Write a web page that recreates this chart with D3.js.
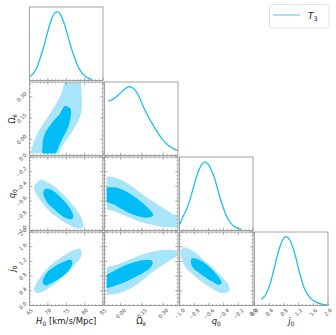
<!DOCTYPE html>
<html>
<head>
<meta charset="utf-8">
<script src="https://cdn.jsdelivr.net/npm/d3@7"></script>
<style>
  body { margin: 0; background: #fff; }
  svg { display: block; font-family: 'DejaVu Sans', sans-serif; }
</style>
</head>
<body>
<div id="chart"></div>
<script>
'use strict'

// parameter ranges, prior bounds and ticks
const DOMAINS = [[65, 85], [-0.115, 0.405], [-1.0, 0.0], [0.0, 2.0]]
const PRIORS = [[65, 85], [-0.1, 0.4], [-1.0, 0.0], [0.0, 2.0]]
const MAJOR_TICKS = [
  [65, 70, 75, 80, 85],
  [0.0, 0.15, 0.30],
  [-1.0, -0.8, -0.6, -0.4, -0.2, 0.0],
  [0.0, 0.4, 0.8, 1.2, 1.6, 2.0]
]
const TICK_FORMATS = ['d', '.2f', '.1f', '.1f']
const MINOR_STEPS = [1, 0.03, 0.05, 0.1]
const AXIS_LABELS = [
  ['H', '0', ' [km/s/Mpc]', true],
  ['Ω', 'k', '', false],
  ['q', '0', '', true],
  ['j', '0', '', true]
]

// 1D marginals (normalised to peak)
const H0_GRID = [65, 66, 67, 68, 69, 70, 71, 72, 73, 74, 75, 76, 77, 78, 79, 80, 81, 82]
const H0_DENSITY = [0.05, 0.10, 0.19, 0.34, 0.52, 0.72, 0.89, 0.99, 0.99, 0.89, 0.73, 0.54, 0.37, 0.23, 0.13, 0.07, 0.035, 0.015]
const OK_GRID = [-0.088, -0.053, -0.017, 0.018, 0.053, 0.089, 0.124, 0.160, 0.195, 0.230, 0.266, 0.301, 0.336, 0.372, 0.403]
const OK_DENSITY = [0.79, 0.82, 0.88, 0.95, 1.0, 0.98, 0.88, 0.71, 0.56, 0.44, 0.32, 0.22, 0.15, 0.10, 0.07]
const Q0_GRID = [-0.997, -0.948, -0.880, -0.812, -0.744, -0.698, -0.653, -0.608, -0.540, -0.472, -0.404, -0.336, -0.268, -0.200, -0.154]
const Q0_DENSITY = [0.087, 0.21, 0.375, 0.62, 0.86, 0.96, 1.0, 0.96, 0.81, 0.57, 0.33, 0.16, 0.07, 0.03, 0.015]
const J0_GRID = [0.177, 0.286, 0.422, 0.558, 0.694, 0.811, 0.876, 0.966, 1.102, 1.238, 1.374, 1.510, 1.646, 1.829, 1.965]
const J0_DENSITY = [0.09, 0.14, 0.31, 0.59, 0.86, 0.99, 1.0, 0.95, 0.74, 0.45, 0.23, 0.115, 0.057, 0.02, 0.01]

// 2D credible contours, [x, y] in parameter units
const H0_OK_68 = [[74.66, 0.235], [76.02, 0.219], [76.29, 0.183], [75.57, 0.089], [73.75, -0.005], [71.2, -0.13], [68.85, -0.13], [68.58, -0.029], [69.22, 0.042], [71.03, 0.113], [73.3, 0.183]]
const H0_OK_95 = [[75.3, 0.43], [78.3, 0.43], [79.2, 0.30], [79.0, 0.183], [76.9, 0.065], [73.75, -0.053], [72.2, -0.13], [65.45, -0.13], [66.04, -0.029], [67.67, 0.065], [70.58, 0.183], [73.3, 0.301]]
const H0_Q0_68 = [[69.22, -0.435], [71.03, -0.449], [73.75, -0.562], [76.02, -0.698], [76.93, -0.812], [76.47, -0.844], [74.66, -0.825], [71.94, -0.721], [69.67, -0.608], [68.76, -0.494]]
const H0_Q0_95 = [[66.31, -0.40], [67.86, -0.313], [69.67, -0.336], [72.39, -0.426], [76.02, -0.608], [78.74, -0.789], [79.65, -0.925], [79.2, -0.970], [77.38, -0.961], [74.2, -0.880], [70.58, -0.744], [67.86, -0.585], [66.5, -0.472]]
const H0_J0_68 = [[68.58, 0.639], [69.67, 0.884], [71.94, 1.066], [74.66, 1.202], [76.2, 1.247], [76.66, 1.156], [75.57, 0.930], [73.3, 0.748], [71.03, 0.612], [69.22, 0.549]]
const H0_J0_95 = [[66.22, 0.431], [66.95, 0.612], [68.76, 0.884], [71.49, 1.156], [74.66, 1.383], [77.38, 1.519], [78.74, 1.547], [79.2, 1.383], [77.38, 1.111], [74.66, 0.839], [71.49, 0.567], [68.76, 0.386], [66.95, 0.340]]
const OK_Q0_68 = [[-0.12, -0.43], [-0.053, -0.413], [0.018, -0.449], [0.113, -0.562], [0.195, -0.698], [0.230, -0.789], [0.207, -0.821], [0.136, -0.812], [0.042, -0.744], [-0.041, -0.653], [-0.12, -0.58]]
const OK_Q0_95 = [[-0.13, -0.281], [-0.029, -0.290], [0.065, -0.381], [0.160, -0.517], [0.266, -0.653], [0.360, -0.766], [0.43, -0.857], [0.43, -0.948], [0.360, -0.957], [0.254, -0.934], [0.136, -0.880], [0.018, -0.789], [-0.076, -0.721], [-0.13, -0.698]]
const OK_J0_68 = [[-0.12, 0.76], [-0.053, 0.930], [0.042, 1.111], [0.160, 1.229], [0.219, 1.220], [0.226, 1.156], [0.207, 1.020], [0.089, 0.748], [-0.005, 0.585], [-0.12, 0.49]]
const OK_J0_95 = [[-0.13, 0.975], [-0.029, 1.111], [0.089, 1.293], [0.207, 1.456], [0.325, 1.519], [0.396, 1.474], [0.41, 1.383], [0.384, 1.311], [0.230, 0.930], [0.113, 0.567], [-0.005, 0.340], [-0.088, 0.295], [-0.13, 0.295]]
const Q0_J0_68 = [[-0.834, 1.274], [-0.766, 1.274], [-0.630, 1.111], [-0.494, 0.839], [-0.426, 0.612], [-0.472, 0.567], [-0.562, 0.658], [-0.698, 0.839], [-0.812, 1.020], [-0.844, 1.156]]
const Q0_J0_95 = [[-0.948, 1.583], [-0.812, 1.474], [-0.653, 1.202], [-0.472, 0.884], [-0.336, 0.567], [-0.322, 0.404], [-0.426, 0.340], [-0.608, 0.522], [-0.789, 0.794], [-0.925, 1.066], [-0.980, 1.383]]

const LEGEND_LABEL = ['T', '3']

const LEFT = 29.5
const TOP = 7
const SIZE = 73.5
const STEP = 75
const LINE_COLOR = '#1dbdf3'
const FILL_68 = '#00bcf7'
const FILL_95 = '#a8e4fa'
const FRAME_COLOR = '#8a8a8a'
const TICK_TEXT = '#555'

const MARGINALS = [
  { grid: H0_GRID, density: H0_DENSITY },
  { grid: OK_GRID, density: OK_DENSITY },
  { grid: Q0_GRID, density: Q0_DENSITY },
  { grid: J0_GRID, density: J0_DENSITY }
]
const PAIRS = [
  { col: 0, row: 1, c68: H0_OK_68, c95: H0_OK_95 },
  { col: 0, row: 2, c68: H0_Q0_68, c95: H0_Q0_95 },
  { col: 0, row: 3, c68: H0_J0_68, c95: H0_J0_95 },
  { col: 1, row: 2, c68: OK_Q0_68, c95: OK_Q0_95 },
  { col: 1, row: 3, c68: OK_J0_68, c95: OK_J0_95 },
  { col: 2, row: 3, c68: Q0_J0_68, c95: Q0_J0_95 }
]

const svg = d3.select('#chart').append('svg')
  .attr('width', 336)
  .attr('height', 335)

const xScales = DOMAINS.map((d, i) => d3.scaleLinear().domain(d).range([LEFT + STEP * i, LEFT + STEP * i + SIZE]))
const yScales = DOMAINS.map((d, j) => d3.scaleLinear().domain(d).range([TOP + STEP * j + SIZE, TOP + STEP * j]))
const densityY = DOMAINS.map((d, j) => d3.scaleLinear().domain([0, 1.07]).range([TOP + STEP * j + SIZE, TOP + STEP * j]))

function minorTicks (i) {
  const step = MINOR_STEPS[i]
  const [lo, hi] = DOMAINS[i]
  return d3.range(Math.ceil(lo / step - 1e-6), Math.floor(hi / step + 1e-6) + 1).map(k => k * step)
}

function drawTicks (g, dim, scale, side, x0, x1, y0, y1) {
  const sets = [[MAJOR_TICKS[dim], 3], [minorTicks(dim), 1.5]]
  sets.forEach(([vals, len]) => {
    vals.forEach(v => {
      const p = scale(v)
      let a
      if (side === 'bottom') a = [p, y1, p, y1 - len]
      if (side === 'top') a = [p, y0, p, y0 + len]
      if (side === 'left') a = [x0, p, x0 + len, p]
      if (side === 'right') a = [x1, p, x1 - len, p]
      g.append('line')
        .attr('x1', a[0]).attr('y1', a[1]).attr('x2', a[2]).attr('y2', a[3])
        .attr('stroke', FRAME_COLOR)
        .attr('stroke-width', 0.6)
    })
  })
}

function frame (g, x0, y0) {
  g.append('rect')
    .attr('x', x0).attr('y', y0)
    .attr('width', SIZE).attr('height', SIZE)
    .attr('fill', 'none')
    .attr('stroke', FRAME_COLOR)
    .attr('stroke-width', 0.8)
}

// 2D panels
const contourLine = d3.line().curve(d3.curveCatmullRomClosed.alpha(0.5))
PAIRS.forEach((p, k) => {
  const xs = xScales[p.col]
  const ys = yScales[p.row]
  const x0 = xs.range()[0]
  const x1 = xs.range()[1]
  const y0 = ys.range()[1]
  const y1 = ys.range()[0]
  const g = svg.append('g')

  const cx0 = xs(Math.max(DOMAINS[p.col][0], PRIORS[p.col][0]))
  const cx1 = xs(Math.min(DOMAINS[p.col][1], PRIORS[p.col][1]))
  const cy0 = ys(Math.min(DOMAINS[p.row][1], PRIORS[p.row][1]))
  const cy1 = ys(Math.max(DOMAINS[p.row][0], PRIORS[p.row][0]))
  g.append('clipPath').attr('id', 'clip' + k)
    .append('rect')
    .attr('x', cx0).attr('y', cy0)
    .attr('width', cx1 - cx0).attr('height', cy1 - cy0)

  const area = g.append('g').attr('clip-path', 'url(#clip' + k + ')')
  area.append('path')
    .datum(p.c95.map(d => [xs(d[0]), ys(d[1])]))
    .attr('d', contourLine)
    .attr('fill', FILL_95)
  area.append('path')
    .datum(p.c68.map(d => [xs(d[0]), ys(d[1])]))
    .attr('d', contourLine)
    .attr('fill', FILL_68)

  frame(g, x0, y0)
  drawTicks(g, p.col, xs, 'bottom', x0, x1, y0, y1)
  drawTicks(g, p.col, xs, 'top', x0, x1, y0, y1)
  drawTicks(g, p.row, ys, 'left', x0, x1, y0, y1)
  drawTicks(g, p.row, ys, 'right', x0, x1, y0, y1)
})

// 1D panels
MARGINALS.forEach((m, i) => {
  const xs = xScales[i]
  const ys = densityY[i]
  const x0 = xs.range()[0]
  const x1 = xs.range()[1]
  const y0 = ys.range()[1]
  const y1 = ys.range()[0]
  const g = svg.append('g')
  const line = d3.line()
    .x(d => xs(d[0]))
    .y(d => ys(d[1]))
    .curve(d3.curveCatmullRom.alpha(0.5))
  g.append('path')
    .datum(m.grid.map((v, n) => [v, m.density[n]]))
    .attr('d', line)
    .attr('fill', 'none')
    .attr('stroke', LINE_COLOR)
    .attr('stroke-width', 1.3)
  frame(g, x0, y0)
  drawTicks(g, i, xs, 'bottom', x0, x1, y0, y1)
})

// tick labels
function tickLabel (value, fmt) {
  const txt = svg.append('text')
    .attr('font-size', 5.2)
    .attr('fill', TICK_TEXT)
    .attr('text-anchor', 'middle')
    .attr('dominant-baseline', 'central')
    .text(fmt(value))
  const w = txt.node().getComputedTextLength()
  return [txt, 2 + (w + 5) / (2 * Math.SQRT2)]
}
const bottom = TOP + STEP * 3 + SIZE
DOMAINS.forEach((d, i) => {
  const fmt = d3.format(TICK_FORMATS[i])
  MAJOR_TICKS[i].forEach(t => {
    const [txt, off] = tickLabel(t, fmt)
    txt.attr('transform', 'translate(' + xScales[i](t) + ',' + (bottom + off) + ') rotate(-45)')
  })
})
for (let j = 1; j < 4; j++) {
  const fmt = d3.format(TICK_FORMATS[j])
  MAJOR_TICKS[j].forEach(t => {
    const [txt, off] = tickLabel(t, fmt)
    txt.attr('transform', 'translate(' + (LEFT - off) + ',' + yScales[j](t) + ') rotate(-45)')
  })
}

// axis labels
function axisLabel (sel, lab) {
  sel.append('tspan').attr('font-style', lab[3] ? 'italic' : 'normal').text(lab[0])
  sel.append('tspan').attr('font-size', 6).attr('dy', 2)
    .attr('font-style', lab[1] === 'k' ? 'italic' : 'normal').text(lab[1])
  if (lab[2]) sel.append('tspan').attr('dy', -2).text(lab[2])
}
AXIS_LABELS.forEach((lab, i) => {
  const t = svg.append('text')
    .attr('x', LEFT + STEP * i + SIZE / 2)
    .attr('y', 324)
    .attr('font-size', 8.5)
    .attr('fill', '#222')
    .attr('text-anchor', 'middle')
  axisLabel(t, lab)
  if (i > 0) {
    const ty = svg.append('text')
      .attr('transform', 'translate(14.5,' + (TOP + STEP * i + SIZE / 2) + ') rotate(-90)')
      .attr('font-size', 8.5)
      .attr('fill', '#222')
      .attr('text-anchor', 'middle')
    axisLabel(ty, lab)
  }
})

// legend
const legend = svg.append('g')
legend.append('rect')
  .attr('x', 269.5).attr('y', 4.5)
  .attr('width', 59.5).attr('height', 23.5)
  .attr('rx', 2)
  .attr('fill', '#fff')
  .attr('stroke', '#dcdcdc')
  .attr('stroke-width', 0.8)
legend.append('line')
  .attr('x1', 273).attr('x2', 300)
  .attr('y1', 15).attr('y2', 15)
  .attr('stroke', '#7dd5f5')
  .attr('stroke-width', 1.4)
const lt = legend.append('text')
  .attr('x', 308).attr('y', 19)
  .attr('font-size', 9)
  .attr('fill', '#222')
lt.append('tspan').attr('font-style', 'italic').text(LEGEND_LABEL[0])
lt.append('tspan').attr('font-size', 6.5).attr('dy', 1.5).text(LEGEND_LABEL[1])
</script>
</body>
</html>
